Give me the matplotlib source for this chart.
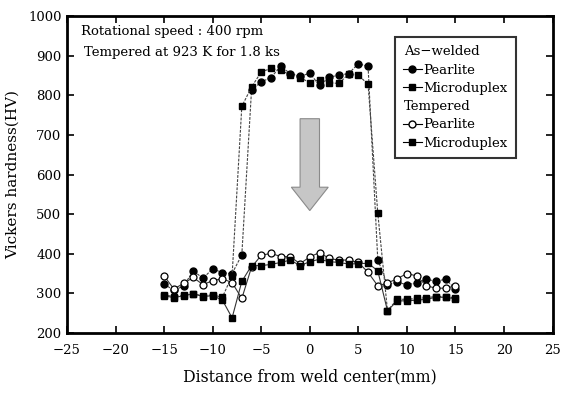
import numpy as np
import matplotlib
matplotlib.use('Agg')
import matplotlib.pyplot as plt
from matplotlib.lines import Line2D
from matplotlib.patches import FancyArrow

plt.rcParams['font.family'] = ['DejaVu Serif']

# distance from weld center (mm)
distance = list(range(-15, 16))

as_welded_pearlite = [323, 308, 318, 357, 338, 362, 352, 350, 397, 813,
                      834, 845, 873, 855, 848, 856, 825, 846, 851, 855,
                      880, 873, 385, 322, 328, 322, 326, 336, 330, 336, 310]
as_welded_microduplex = [297, 291, 295, 298, 294, 296, 290, 345, 772, 821,
                         859, 868, 863, 852, 845, 832, 840, 832, 830, 854,
                         851, 828, 503, 256, 285, 285, 287, 289, 292, 292, 288]
tempered_pearlite = [344, 311, 325, 340, 322, 332, 337, 327, 287, 366,
                     396, 401, 393, 392, 375, 392, 403, 388, 384, 384,
                     378, 353, 319, 326, 337, 350, 344, 319, 313, 313, 319]
tempered_microduplex = [294, 289, 294, 299, 292, 294, 283, 238, 330, 370,
                        370, 373, 378, 384, 370, 380, 386, 380, 378, 374,
                        375, 376, 357, 256, 281, 281, 283, 285, 290, 290, 286]

fig = plt.figure(figsize=(5.63, 3.94), dpi=100)
ax = fig.add_axes([0.119, 0.155, 0.8625, 0.804])

dash = (0, (2.5, 1.2))
l1, = ax.plot(distance, as_welded_pearlite, color='#444444', lw=0.8, ls=dash,
              marker='o', ms=5, mfc='black', mec='black', zorder=3)
l2, = ax.plot(distance, as_welded_microduplex, color='#444444', lw=0.8, ls=dash,
              marker='s', ms=4, mfc='black', mec='black', zorder=3)
l3, = ax.plot(distance, tempered_pearlite, color='#333333', lw=0.8,
              marker='o', ms=5, mfc='white', mec='black', mew=0.9, zorder=4)
l4, = ax.plot(distance, tempered_microduplex, color='#333333', lw=0.8,
              marker='s', ms=4.5, mfc='black', mec='black', zorder=4)

# shaded arrow
ax.add_patch(FancyArrow(0, 741, 0, -232, width=2.0, head_width=3.8,
                        head_length=59, length_includes_head=True,
                        fc='#c6c6c6', ec='#8a8a8a', lw=0.8, zorder=2))

ax.text(-23.6, 960, 'Rotational speed : 400 rpm', fontsize=9.5, va='center')
ax.text(-23.3, 907, 'Tempered at 923 K for 1.8 ks', fontsize=9.5, va='center')

ax.set_xlim(-25, 25)
ax.set_ylim(200, 1000)
ax.set_xticks(np.arange(-25, 26, 5))
ax.set_yticks(np.arange(200, 1001, 100))
ax.tick_params(direction='in', length=5, width=1.2, top=True, right=True,
               labelsize=9.5)
ax.tick_params(axis='x', pad=8)
ax.tick_params(axis='y', pad=4)
for s in ax.spines.values():
    s.set_linewidth(2)

ax.set_xlabel('Distance from weld center(mm)', fontsize=11.3, labelpad=8)
ax.set_ylabel('Vickers hardness(HV)', fontsize=11, labelpad=6)

blank = Line2D([], [], linestyle='none')
h1 = Line2D([], [], color='black', lw=0.8, marker='o', ms=5, mfc='black')
h2 = Line2D([], [], color='black', lw=0.8, marker='s', ms=4, mfc='black')
h3 = Line2D([], [], color='black', lw=0.8, marker='o', ms=5, mfc='white')
h4 = Line2D([], [], color='black', lw=0.8, marker='s', ms=4.5, mfc='black')
handles = [blank, h1, h2, blank, h3, h4]
labels = ['As\u2212welded', 'Pearlite', 'Microduplex', 'Tempered', 'Pearlite', 'Microduplex']
leg = ax.legend(handles, labels, loc='upper right', bbox_to_anchor=(0.938, 0.954),
                fontsize=9.5, frameon=True, fancybox=False, edgecolor='black',
                handlelength=1.5, handletextpad=0.1, labelspacing=0.4,
                borderpad=0.6)
leg.get_frame().set_linewidth(1.5)
for col in leg._legend_handle_box.get_children():
    for i, row in enumerate(col.get_children()):
        if i in (0, 3):
            row.get_children()[0].set_width(0)

fig.savefig('out.png', dpi=100)
